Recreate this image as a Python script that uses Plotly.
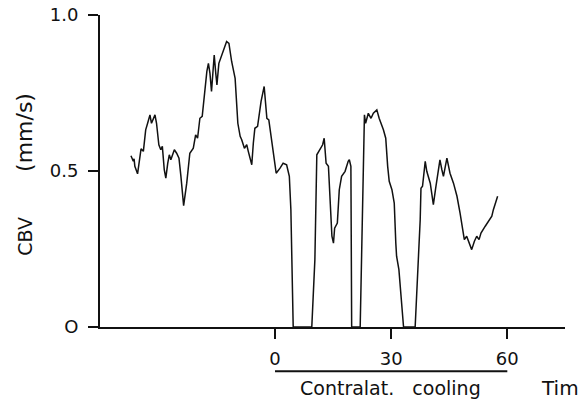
import plotly.graph_objects as go

# Time (min) relative to onset of contralateral cooling
time_min = [
    -37.2, -36.6, -36.4, -36.2, -35.5, -34.9, -34.6, -34.0, -33.4, -32.9,
    -32.3, -31.9, -31.4, -31.0, -30.6, -30.0, -29.5, -29.1, -28.6, -28.2,
    -27.7, -27.3, -26.9, -26.0, -25.4, -24.8, -24.3, -23.6, -22.8, -22.0,
    -21.1, -20.5, -20.0, -19.4, -18.8, -18.3, -17.6, -17.2, -16.8, -16.4,
    -15.9, -15.7, -15.3, -15.0, -14.5, -13.8, -13.1, -12.5, -11.9, -11.2,
    -10.3, -9.9, -9.6, -9.0, -8.6, -7.9, -7.3, -6.9, -6.0, -5.6,
    -5.2, -4.5, -4.1, -3.6, -2.8, -2.1, -1.6, -0.9, 0.3, 1.3,
    2.1, 3.0, 3.7, 4.1, 4.3, 4.7, 9.5, 10.3, 10.8, 11.6,
    12.3, 12.7, 13.2, 13.8, 14.2, 14.7, 15.1, 15.4, 16.1, 16.6,
    17.2, 18.1, 18.9, 19.2, 19.6, 19.8, 22.0, 22.6, 23.1, 23.4,
    24.1, 24.8, 25.4, 26.3, 26.9, 28.0, 28.6, 29.1, 29.5, 30.2,
    30.8, 31.2, 31.4, 32.0, 32.7, 33.2, 36.2, 36.9, 37.5, 37.7,
    38.1, 38.8, 39.2, 40.1, 40.6, 40.9, 41.5, 42.0, 42.6, 43.1,
    43.5, 44.4, 45.2, 46.1, 47.0, 47.8, 48.4, 48.9, 49.5, 50.0,
    50.8, 51.5, 52.1, 52.7, 53.2, 54.3, 55.1, 56.0, 56.4, 57.5,
]

# Cerebral blood velocity (mm/s)
cbv = [
    0.549, 0.531, 0.539, 0.515, 0.491, 0.558, 0.571, 0.563, 0.632, 0.653,
    0.680, 0.653, 0.669, 0.680, 0.653, 0.584, 0.568, 0.579, 0.504, 0.477,
    0.525, 0.552, 0.536, 0.568, 0.557, 0.541, 0.483, 0.389, 0.461, 0.557,
    0.573, 0.616, 0.605, 0.669, 0.675, 0.739, 0.819, 0.845, 0.813, 0.755,
    0.845, 0.872, 0.813, 0.776, 0.845, 0.872, 0.893, 0.915, 0.909, 0.851,
    0.797, 0.723, 0.653, 0.611, 0.600, 0.573, 0.584, 0.563, 0.520, 0.589,
    0.637, 0.643, 0.685, 0.723, 0.771, 0.669, 0.664, 0.600, 0.493, 0.509,
    0.525, 0.520, 0.483, 0.376, 0.216, 0.0, 0.0, 0.216, 0.552, 0.568,
    0.584, 0.605, 0.525, 0.515, 0.408, 0.291, 0.269, 0.317, 0.333, 0.440,
    0.483, 0.499, 0.531, 0.536, 0.515, 0.0, 0.0, 0.333, 0.680, 0.653,
    0.685, 0.669, 0.685, 0.696, 0.669, 0.632, 0.605, 0.515, 0.467, 0.440,
    0.397, 0.269, 0.227, 0.184, 0.067, 0.0, 0.0, 0.173, 0.344, 0.445,
    0.451, 0.531, 0.499, 0.461, 0.413, 0.392, 0.445, 0.493, 0.536, 0.504,
    0.483, 0.541, 0.493, 0.461, 0.419, 0.365, 0.317, 0.280, 0.291, 0.275,
    0.248, 0.275, 0.291, 0.280, 0.301, 0.323, 0.339, 0.355, 0.376, 0.419,
]

x_tickvals = [0, 30, 60]
x_ticktext = ["0", "30", "60"]
y_tickvals = [0, 0.5, 1.0]
y_ticktext = ["O", "0.5", "1.0"]

cooling_start = 0
cooling_end = 60

FONT = "DejaVu Sans"

fig = go.Figure()
fig.add_trace(go.Scatter(
    x=time_min, y=cbv, mode="lines",
    line=dict(color="#111", width=1.5),
    showlegend=False, cliponaxis=False, hoverinfo="skip",
))

fig.update_layout(
    width=578, height=401,
    margin=dict(l=100, r=13, t=15, b=73.5, autoexpand=False),
    paper_bgcolor="white", plot_bgcolor="white",
    font=dict(family=FONT, size=18, color="#111"),
    xaxis=dict(
        range=[-45.2, 74.9], showgrid=False, zeroline=False,
        showline=True, linecolor="#111", linewidth=2,
        ticks="outside", ticklen=10, tickwidth=2, tickcolor="#111",
        tickvals=x_tickvals, ticktext=x_ticktext,
        tickfont=dict(family=FONT, size=18, color="#111"),
        ticklabelstandoff=4, ticklabeloverflow="allow",
    ),
    yaxis=dict(
        range=[0, 1.0], showgrid=False, zeroline=False,
        showline=True, linecolor="#111", linewidth=2,
        ticks="outside", ticklen=10, tickwidth=2, tickcolor="#111",
        tickvals=y_tickvals, ticktext=y_ticktext,
        tickfont=dict(family=FONT, size=18, color="#111"),
        ticklabelstandoff=6, ticklabeloverflow="allow",
    ),
)

# Cooling bar
fig.add_shape(type="line", xref="x", yref="paper",
              x0=cooling_start, x1=cooling_end, y0=-0.142, y1=-0.142,
              line=dict(color="#111", width=2))

fig.add_annotation(text="Contralat.\u00a0\u00a0\u00a0cooling", xref="x", yref="paper",
                   x=(cooling_start + cooling_end) / 2 - 0.3, y=-0.195,
                   showarrow=False, xanchor="center", yanchor="middle",
                   font=dict(family=FONT, size=19, color="#111"))
fig.add_annotation(text="Time", xref="x", yref="paper",
                   x=68.2, y=-0.195, showarrow=False,
                   xanchor="left", yanchor="middle",
                   font=dict(family=FONT, size=20, color="#111"))

# Y axis title (two parts)
fig.add_annotation(text="CBV", xref="paper", yref="paper",
                   x=-0.161, y=(327.5 - 237) / 312.5, textangle=-90,
                   showarrow=False, xanchor="center", yanchor="middle",
                   font=dict(family=FONT, size=19, color="#111"))
fig.add_annotation(text="(mm/s)", xref="paper", yref="paper",
                   x=-0.161, y=(327.5 - 133) / 312.5, textangle=-90,
                   showarrow=False, xanchor="center", yanchor="middle",
                   font=dict(family=FONT, size=22, color="#111"))

# remove the default 8px body margin so the figure fills the window exactly
fig.write_html("out.html", config={"displayModeBar": False},
               post_script="document.body.style.margin='0px';")
